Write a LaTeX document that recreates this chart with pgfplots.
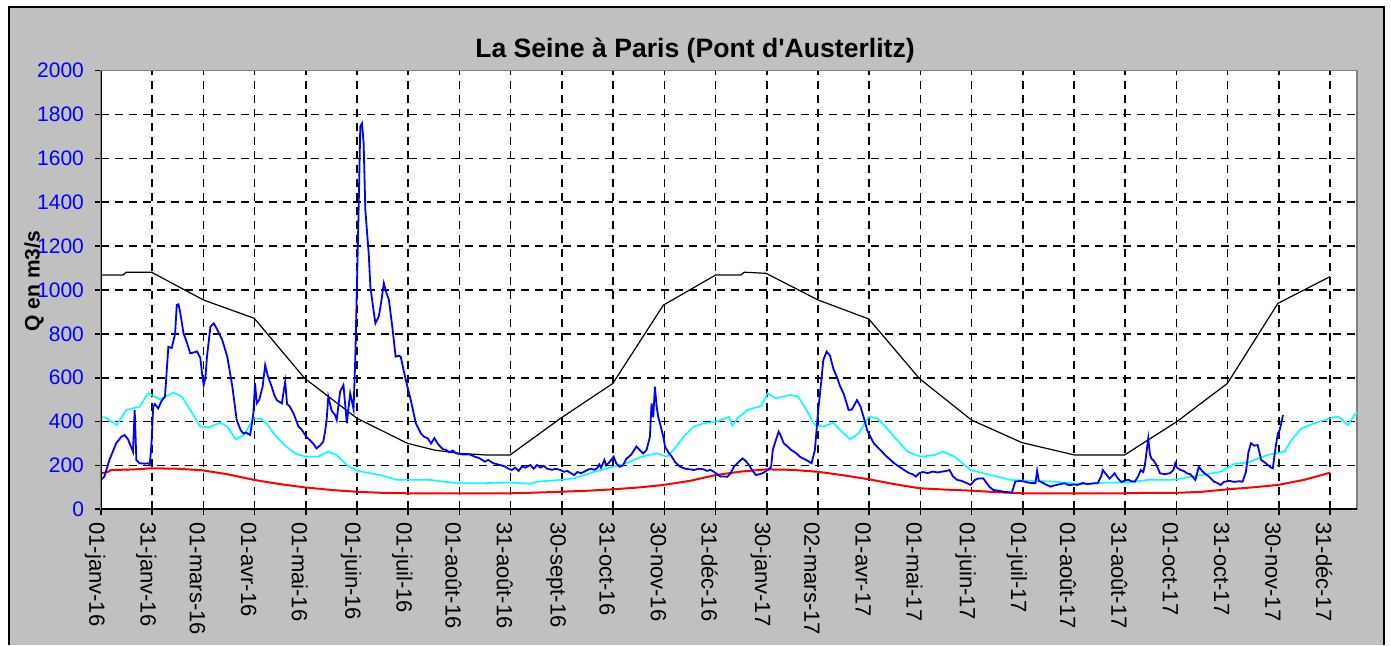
\documentclass[border=0pt]{standalone}
\usepackage{fontspec}
\setmainfont{Liberation Sans}
\usepackage{pgfplots}
\pgfplotsset{compat=1.18}
\definecolor{bg}{HTML}{C0C0C0}
\definecolor{qblue}{HTML}{0000FF}
\definecolor{qcyan}{HTML}{00FFFF}
\definecolor{qred}{HTML}{FF0000}
\begin{document}
\begin{tikzpicture}[x=0.5pt,y=0.5pt]
\fill[white] (0,0) rectangle (1391,645);
\fill[bg] (8,0) rectangle (1384,638);
\draw[black, line width=1pt] (8.5,0) -- (8.5,637.5) -- (1383.5,637.5) -- (1383.5,0);
\node[font=\bfseries\fontsize{13.3}{16}\selectfont, anchor=base] at (695,587) {La Seine à Paris (Pont d\textquotesingle Austerlitz)};
\node[font=\bfseries\fontsize{10.5}{12}\selectfont, rotate=90] at (34,364) {Q en m3/s};
\begin{axis}[
  at={(50.5pt,67.85pt)}, anchor=south west,
  scale only axis, width=628pt, height=219.3pt,
  xmin=0, xmax=746, ymin=0, ymax=2000,
  ytick={0,200,...,2000},
  xtick={0,30.42,60.83,91.25,121.67,152.08,182.5,212.92,243.33,273.75,304.17,334.58,365,395.42,425.83,456.25,486.67,517.08,547.5,577.92,608.33,638.75,669.17,699.58,730},
  xticklabels={01-janv-16,31-janv-16,01-mars-16,01-avr-16,01-mai-16,01-juin-16,01-juil-16,01-août-16,31-août-16,30-sept-16,31-oct-16,30-nov-16,31-déc-16,30-janv-17,02-mars-17,01-avr-17,01-mai-17,01-juin-17,01-juil-17,01-août-17,31-août-17,01-oct-17,31-oct-17,30-nov-17,31-déc-17},
  scaled y ticks=false,
  /pgf/number format/assume math mode=true,
  /pgf/number format/1000 sep={},
  tick pos=left, tick align=outside,
  major tick length=3pt,
  tick style={black, line width=0.8pt},
  yticklabel style={text=qblue, font=\fontsize{10.5}{12}\selectfont, xshift=-2pt},
  xticklabel style={rotate=-90, anchor=west, font=\fontsize{11}{12}\selectfont, yshift=-3pt},
  grid=major,
  major grid style={black, line width=0.8pt, dash pattern=on 4pt off 3pt},
  axis line style={draw=gray, line width=0.6pt},
  axis background/.style={fill=white},
]
% black: high threshold
\addplot[black, line width=0.6pt] coordinates {
(0,1068)(13,1068)(15,1081)(30,1081)(61,954)(91,871)(121,597)(152,415)(182,301)(198,270)(213,255)(228,248)(243,248)(273,415)(304,574)(334,931)(365,1068)(380,1068)(382,1081)(395,1076)(426,954)(456,868)(486,597)(517,407)(547,304)(578,248)(608,248)(639,400)(669,574)(699,939)(730,1061)};
% cyan: mean
\addplot[qcyan, line width=0.8pt] coordinates {
(0,420)(3,418)(9.3,384)(15,453)(23,468)(28,529)(35,502)(43,532)(48,514)(53,453)(59,377)(64,374)(71,395)(75,377)(80,319)(85,339)(90.6,415)(95,412)(98.5,389)(104,331)(110,286)(116,252)(122,240)(129,240)(135,263)(140,247)(146,202)(152,176)(158,167)(166,156)(176,134)(195.5,134)(203.4,126)(213,119)(225,119)(243,122)(255,116)(259,126)(273,134)(281,141)(293,171)(304.5,194)(312,210)(321,240)(330,255)(336,240)(340,270)(346,331)(352,377)(358,392)(366,400)(373,422)(375,381)(378,415)(384,453)(392,471)(396,529)(400.5,506)(409.5,521)(414,514)(419,453)(424,384)(429,377)(435,395)(440,354)(445,319)(450,346)(456,422)(461,415)(466,377)(471,331)(479,263)(487,240)(495,247)(500,263)(507,240)(516.5,179)(526,161)(540,134)(566,126)(582,115)(598,122)(610,122)(621.5,134)(637,134)(653,156)(665,171)(673,207)(681,213)(693,248)(703,263)(707,316)(713,369)(720.5,392)(732,419)(735,422)(740.5,384)(744.5,430)(747,445)};
% red: low
\addplot[qred, line width=1pt] coordinates {
(0,164)(4,170)(6,179)(20,182)(30,187)(45,185)(60,178)(75,160)(91,134)(106,115)(121,100)(137,88)(152,80)(167,75)(182,73)(213,73)(243,73)(258,76)(273,80)(290,85)(304,91)(320,100)(334,111)(350,130)(365,156)(380,172)(395,182)(410,180)(426,171)(441,155)(456,137)(471,115)(486,96)(501,90)(517,85)(532,78)(547,73)(578,73)(608,73)(620,75)(639,75)(654,80)(669,91)(684,100)(699,111)(715,135)(730,167)};
% blue: daily discharge
\addplot[qblue, line width=0.9pt] coordinates {
(0,134)(2,150)(5,225)(9,301)(12,330)(14,339)(16,320)(19,263)(20,453)(21,225)(23,210)(26,208)(28,210)(29,205)(30,301)(31,468)(32,480)(34,460)(36,495)(38,514)(40,741)(42,735)(44,800)(45,932)(46,935)(47,900)(49,803)(51,760)(53,711)(55,715)(57,720)(59,690)(60,620)(61,567)(62,600)(63,700)(65,833)(67,848)(69,820)(72,772)(75,696)(78,560)(80.6,407)(83,360)(84.6,346)(86,350)(88.6,339)(90.5,438)(91.5,575)(92.5,483)(94,500)(96,560)(97.5,658)(99,610)(101.4,559)(103,520)(104.4,498)(107.4,483)(109.4,582)(110.5,480)(112,470)(114.3,438)(117.3,377)(119,365)(120,354)(122,330)(124,316)(126,300)(128,278)(130,290)(132,308)(133,350)(134,407)(135,513)(137,450)(139,430)(140,407)(142,536)(144,567)(145,480)(146,392)(148,529)(150,457)(151,681)(152,1015)(153,1365)(154,1745)(155,1760)(156,1669)(157,1365)(159,1167)(160,1015)(162,900)(163,848)(165,880)(166,924)(168,1031)(169,1000)(171,954)(173,833)(175,696)(177,700)(178,696)(181,590)(184,498)(187,392)(190,346)(192,330)(194,324)(196,300)(198,325)(200,300)(201.5,286)(203,275)(205,270)(207,260)(209,268)(211,255)(213,252)(215,250)(219,250)(222,240)(225,232)(228,217)(230,225)(233,210)(237,202)(240,195)(242,185)(244,179)(246,190)(248,175)(250,195)(252,190)(255,202)(257,185)(259,202)(261,190)(263,198)(265,185)(268,180)(270,185)(273,179)(275,171)(277,175)(279,165)(281,156)(283,170)(285,165)(287,171)(289,180)(291,185)(293,180)(294.6,187)(296,205)(297,190)(299,225)(300,200)(302,215)(304.5,240)(306,210)(308,194)(310,200)(312,230)(315,250)(318,286)(320,270)(322,255)(324,270)(326,330)(327,483)(328,420)(329,559)(330,470)(331,420)(332,392)(334,330)(335,286)(337,260)(339,240)(341,215)(344,194)(347,185)(350,182)(352,179)(355,185)(358,182)(360,175)(362,180)(364,171)(366,160)(368,149)(370,150)(372,148)(374,165)(376,195)(378,210)(380,225)(381,232)(383,220)(385,200)(387,175)(389,156)(391,160)(393,165)(396,179)(398,194)(399,270)(401,320)(402.5,354)(404,330)(405.5,301)(408,285)(410,270)(411.5,263)(413,255)(415,240)(417,232)(420,220)(422,210)(424,270)(426,453)(428,600)(429,681)(431,719)(433,700)(435,640)(437,605)(439,560)(441,529)(443,480)(444,453)(446,455)(449,498)(451,470)(453,420)(455,362)(457,330)(459,301)(461,285)(463,270)(466,245)(469,225)(471,210)(474,195)(477,179)(480,165)(482,160)(484,149)(486,165)(488,170)(491,165)(494,172)(497,168)(499,171)(502,175)(504,179)(506,150)(508.6,134)(511,130)(514,120)(516.5,111)(518,125)(519,134)(521,140)(524,141)(526,120)(528,100)(530,88)(533,85)(536,80)(539,78)(541,76)(542,100)(543,126)(546,130)(549,125)(552,120)(555,119)(556,176)(557,130)(560,118)(562,110)(564,103)(566,108)(568,112)(570,115)(572,119)(575,110)(578,113)(580,111)(583,120)(586,115)(589,118)(592,119)(594,150)(595,179)(597,160)(599,140)(601,155)(602,164)(604,140)(606,125)(608,130)(610,135)(612,128)(614,126)(616,150)(617.5,179)(619,170)(620,200)(622,324)(623,250)(624,230)(625,225)(627,200)(629,164)(632,160)(635,165)(637,180)(638,210)(639,190)(641,180)(643,175)(645,164)(647,160)(650,134)(652,194)(654,175)(656,160)(658,150)(661,126)(663,120)(665,111)(667,125)(670,130)(673,125)(676,128)(678,126)(680,170)(681.5,260)(683,301)(685,290)(687,293)(688,260)(689,225)(691,215)(693,202)(695,190)(696,187)(697,248)(698,300)(699,346)(700,360)(701,392)(702,430)};
\draw[black, line width=1.2pt] (rel axis cs:0,1) -- (rel axis cs:0,0) -- (rel axis cs:1,0);
\end{axis}
\end{tikzpicture}
\end{document}
